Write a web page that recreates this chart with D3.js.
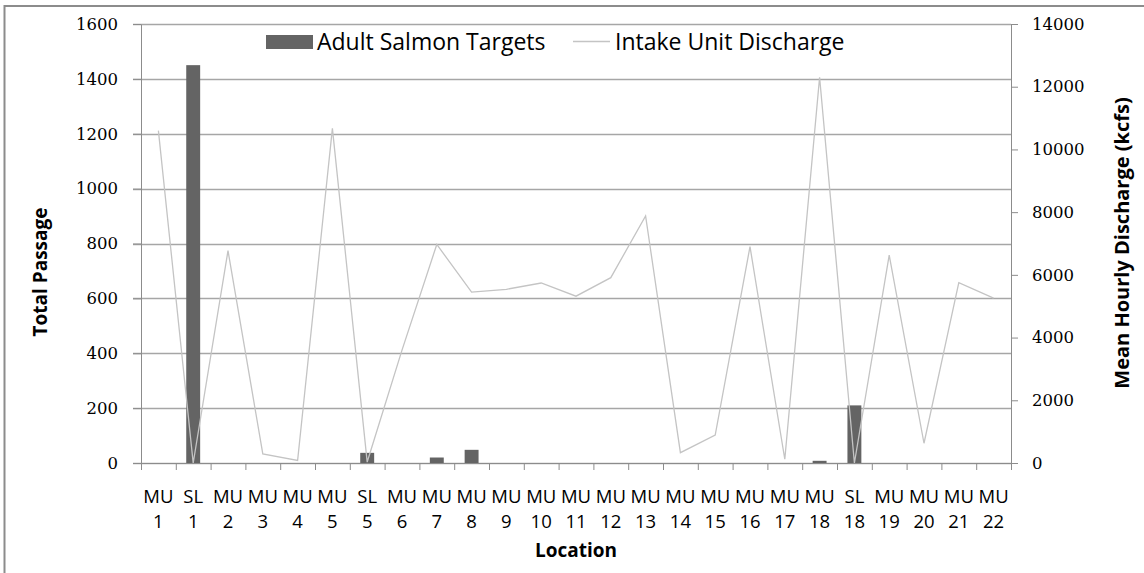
<!DOCTYPE html>
<html>
<head>
<meta charset="utf-8">
<script src="https://cdn.jsdelivr.net/npm/d3@7"></script>
<style>
  body { margin: 0; background: #fff; }
  .cat { font-family: "Open Sans", sans-serif; font-size: 18.5px; fill: #000; }
  .num text { font-family: "DejaVu Serif", serif; font-size: 16.5px; fill: #000; }
  .ttl { font-family: "Open Sans", sans-serif; font-size: 19px; font-weight: bold; fill: #000; }
  .leg { font-family: "Open Sans", sans-serif; font-size: 23px; fill: #000; }
</style>
</head>
<body>
<svg id="chart" width="1144" height="573"></svg>
<script>
// categories (code + number, shown on two lines)
var locations = ["MU 1", "SL 1", "MU 2", "MU 3", "MU 4", "MU 5", "SL 5", "MU 6", "MU 7", "MU 8",
  "MU 9", "MU 10", "MU 11", "MU 12", "MU 13", "MU 14", "MU 15", "MU 16", "MU 17", "MU 18",
  "SL 18", "MU 19", "MU 20", "MU 21", "MU 22"];

// Adult Salmon Targets (left axis)
var salmonTargets = [0, 1450, 0, 0, 0, 0, 37, 0, 20, 48,
  0, 0, 0, 0, 0, 0, 0, 0, 0, 8,
  210, 0, 0, 0, 0];

// Intake Unit Discharge (right axis)
var unitDischarge = [10600, 0, 6770, 290, 80, 10670, 30, 3600, 6970, 5450,
  5540, 5740, 5320, 5910, 7880, 330, 890, 6900, 120, 12300,
  0, 6630, 630, 5750, 5260];

var leftTicks = [0, 200, 400, 600, 800, 1000, 1200, 1400, 1600];
var rightTicks = [0, 2000, 4000, 6000, 8000, 10000, 12000, 14000];

var margin = {top: 24, right: 133, bottom: 110, left: 141},
  width = 1144 - margin.left - margin.right,
  height = 573 - margin.top - margin.bottom;

var svg = d3.select("#chart");

// outer frame
svg.append("rect")
  .attr("x", 4.5).attr("y", 6)
  .attr("width", 1200).attr("height", 600)
  .attr("fill", "none")
  .attr("stroke", "#8c8c8c")
  .attr("stroke-width", 2);

var g = svg.append("g")
  .attr("transform", "translate(" + margin.left + "," + margin.top + ")");

var x = d3.scaleBand().domain(locations).range([0, width]);
var xBar = d3.scaleBand().domain(locations).range([0, width])
  .paddingInner(0.6).paddingOuter(0.3);
var xEdge = d3.scaleLinear().domain([0, locations.length]).range([0, width]);

var yL = d3.scaleLinear().domain([0, 1600]).range([height, 0]);
var yR = d3.scaleLinear().domain([0, 14000]).range([height, 0]);

// gridlines
g.selectAll(".grid")
  .data(leftTicks)
  .enter().append("line")
  .attr("x1", -8).attr("x2", width)
  .attr("y1", function(d) { return Math.round(yL(d)) + 0.5; })
  .attr("y2", function(d) { return Math.round(yL(d)) + 0.5; })
  .attr("stroke", "#a6a6a6")
  .attr("stroke-width", 1.3);

// left axis
var leftAxis = g.append("g")
  .attr("class", "num")
  .call(d3.axisLeft(yL).tickValues(leftTicks).tickSize(8).tickSizeOuter(0)
    .tickPadding(15).tickFormat(d3.format("d")));
leftAxis.selectAll("line, path").attr("stroke", "#8c8c8c");

// right axis
var rightAxis = g.append("g")
  .attr("class", "num")
  .attr("transform", "translate(" + width + ",0)")
  .call(d3.axisRight(yR).tickValues(rightTicks).tickSize(7).tickSizeOuter(0)
    .tickPadding(14).tickFormat(d3.format("d")));
rightAxis.selectAll("line, path").attr("stroke", "#8c8c8c");

// bottom axis, ticks between categories
var bottomAxis = g.append("g")
  .attr("transform", "translate(0," + height + ")")
  .call(d3.axisBottom(xEdge).ticks(locations.length).tickSize(7).tickSizeOuter(0).tickFormat(""));
bottomAxis.selectAll("line, path").attr("stroke", "#8c8c8c");

// category labels
var lab = g.selectAll(".cat")
  .data(locations)
  .enter().append("text")
  .attr("class", "cat")
  .attr("text-anchor", "middle")
  .attr("transform", function(d) {
    return "translate(" + (x(d) + x.bandwidth() / 2) + "," + (height + 40) + ")";
  });
lab.append("tspan").attr("x", 0).attr("y", 0)
  .text(function(d) { return d.split(" ")[0]; });
lab.append("tspan").attr("x", 0).attr("y", 25)
  .text(function(d) { return d.split(" ")[1]; });

// bars
g.selectAll(".bar")
  .data(locations)
  .enter().append("rect")
  .attr("class", "bar")
  .attr("x", function(d) { return xBar(d); })
  .attr("width", xBar.bandwidth())
  .attr("y", function(d, i) { return yL(salmonTargets[i]); })
  .attr("height", function(d, i) { return height - yL(salmonTargets[i]); })
  .attr("fill", "#646464");

// discharge line
var line = d3.line()
  .x(function(d, i) { return x(locations[i]) + x.bandwidth() / 2; })
  .y(function(d) { return yR(d); });

g.append("path")
  .datum(unitDischarge)
  .attr("d", line)
  .attr("fill", "none")
  .attr("stroke", "#c4c4c4")
  .attr("stroke-width", 1.3);

// axis titles
svg.append("text")
  .attr("class", "ttl")
  .attr("text-anchor", "middle")
  .attr("x", 576).attr("y", 557)
  .text("Location");

svg.append("text")
  .attr("class", "ttl")
  .attr("text-anchor", "middle")
  .attr("transform", "translate(47,272) rotate(-90)")
  .text("Total Passage");

svg.append("text")
  .attr("class", "ttl")
  .attr("text-anchor", "middle")
  .style("font-size", "20px")
  .attr("transform", "translate(1129,243) rotate(-90)")
  .text("Mean Hourly Discharge (kcfs)");

// legend
var leg = svg.append("g");
leg.append("rect")
  .attr("x", 266).attr("y", 35)
  .attr("width", 47).attr("height", 14)
  .attr("fill", "#646464");
leg.append("text")
  .attr("class", "leg")
  .attr("x", 317).attr("y", 50)
  .text("Adult Salmon Targets");
leg.append("line")
  .attr("x1", 573).attr("x2", 610)
  .attr("y1", 41.5).attr("y2", 41.5)
  .attr("stroke", "#c4c4c4")
  .attr("stroke-width", 1.3);
leg.append("text")
  .attr("class", "leg")
  .attr("x", 615).attr("y", 50)
  .text("Intake Unit Discharge");
</script>
</body>
</html>
